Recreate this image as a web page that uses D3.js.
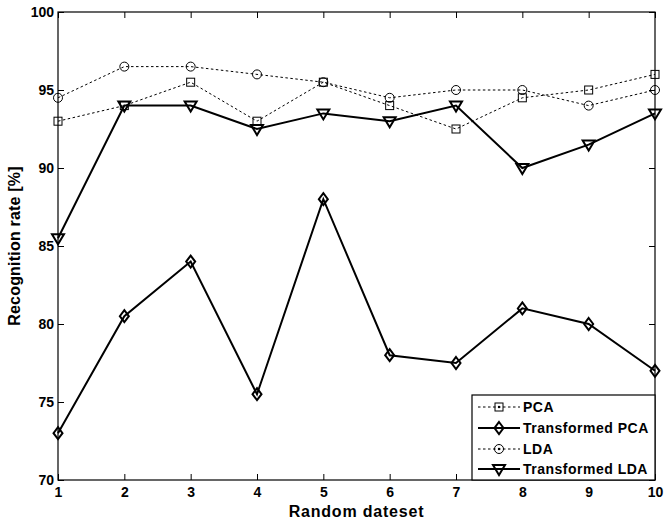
<!DOCTYPE html>
<html><head><meta charset="utf-8">
<script src="https://cdn.jsdelivr.net/npm/d3@7"></script>
<style>body{margin:0;background:#fff}svg{display:block}text{font-family:Arial,"Liberation Sans",sans-serif;font-weight:bold;fill:#000}</style>
</head><body>
<script>
const datasets = [1,2,3,4,5,6,7,8,9,10];
const pca = [93,94,95.5,93,95.5,94,92.5,94.5,95,96];
const transformedPca = [73,80.5,84,75.5,88,78,77.5,81,80,77];
const lda = [94.5,96.5,96.5,96,95.5,94.5,95,95,94,95];
const transformedLda = [85.5,94,94,92.5,93.5,93,94,90,91.5,93.5];
const yTicks = [70,75,80,85,90,95,100];
const seriesNames = ["PCA","Transformed PCA","LDA","Transformed LDA"];

const W=664,H=520;
const m={l:58,r:9,t:12,b:40};
const svg=d3.select("body").append("svg").attr("width",W).attr("height",H);
const x=d3.scaleLinear().domain([1,10]).range([m.l,W-m.r]);
const y=d3.scaleLinear().domain([70,100]).range([H-m.b,m.t]);

svg.append("rect").attr("x",m.l).attr("y",m.t).attr("width",W-m.r-m.l).attr("height",H-m.b-m.t)
  .attr("fill","none").attr("stroke","#000").attr("stroke-width",1.2);

const fs=14;
const ax=svg.append("g").attr("transform",`translate(0,${H-m.b})`)
  .call(d3.axisBottom(x).tickValues(datasets).tickSize(-6).tickPadding(7).tickFormat(d3.format("d")));
const ay=svg.append("g").attr("transform",`translate(${m.l},0)`)
  .call(d3.axisLeft(y).tickValues(yTicks).tickSize(-6).tickPadding(4));
const at=svg.append("g").attr("transform",`translate(0,${m.t})`)
  .call(d3.axisTop(x).tickValues(datasets).tickSize(-6).tickFormat(""));
const ar=svg.append("g").attr("transform",`translate(${W-m.r},0)`)
  .call(d3.axisRight(y).tickValues(yTicks).tickSize(-6).tickFormat(""));
[ax,ay,at,ar].forEach(g=>{g.select(".domain").remove();g.selectAll("line").attr("stroke","#000");
  g.selectAll("text").attr("font-size",fs).attr("font-weight","bold").attr("font-family","Arial, Liberation Sans, sans-serif");});

svg.append("text").attr("x",(m.l+W-m.r)/2).attr("y",H-3).attr("text-anchor","middle")
  .attr("font-size",16).attr("letter-spacing","0.8").text("Random dateset");
svg.append("text").attr("transform",`translate(20,${(m.t+H-m.b)/2}) rotate(-90)`).attr("text-anchor","middle")
  .attr("font-size",16).attr("letter-spacing","0.2").text("Recognition rate [%]");

function marker(g,type,cx,cy,dot){
  if(type==="square"){g.append("rect").attr("x",cx-4).attr("y",cy-4).attr("width",8).attr("height",8).attr("fill","none").attr("stroke","#000").attr("stroke-width",1);}
  else if(type==="circle"){g.append("circle").attr("cx",cx).attr("cy",cy).attr("r",4.5).attr("fill","none").attr("stroke","#000").attr("stroke-width",1);}
  else if(type==="diamond"){g.append("path").attr("d",`M${cx},${cy-6}L${cx+4.5},${cy}L${cx},${cy+6}L${cx-4.5},${cy}Z`).attr("fill","none").attr("stroke","#000").attr("stroke-width",2);}
  else if(type==="tri"){g.append("path").attr("d",`M${cx-6},${cy-4}L${cx+6},${cy-4}L${cx},${cy+6}Z`).attr("fill","none").attr("stroke","#000").attr("stroke-width",2);}
  if(dot) g.append("circle").attr("cx",cx).attr("cy",cy).attr("r",1.2).attr("fill","#000");
}

const series=[
  {vals:pca,type:"square",dash:"2.5,2.5",w:1},
  {vals:lda,type:"circle",dash:"2.5,2.5",w:1},
  {vals:transformedLda,type:"tri",dash:null,w:2},
  {vals:transformedPca,type:"diamond",dash:null,w:2}
];
const line=d3.line().x((d,i)=>x(datasets[i])).y(d=>y(d));
series.forEach(s=>{
  const g=svg.append("g");
  g.append("path").datum(s.vals).attr("d",line).attr("fill","none").attr("stroke","#000")
    .attr("stroke-width",s.w).attr("stroke-dasharray",s.dash);
  s.vals.forEach((v,i)=>marker(g,s.type,x(datasets[i]),y(v),false));
});

const lx=472, ly=395, lw=W-m.r-lx, lh=H-m.b-ly;
const lg=svg.append("g");
lg.append("rect").attr("x",lx).attr("y",ly).attr("width",lw).attr("height",lh).attr("fill","#fff").attr("stroke","#000").attr("stroke-width",1.2);
const legTypes=[{t:"square",dash:"2.5,2.5",w:1,dot:true},{t:"diamond",dash:null,w:2,dot:false},{t:"circle",dash:"2.5,2.5",w:1,dot:true},{t:"tri",dash:null,w:2,dot:false}];
const rowsY=[407,428,449,469];
seriesNames.forEach((n,i)=>{
  const cy=rowsY[i];
  lg.append("line").attr("x1",478).attr("x2",520).attr("y1",cy).attr("y2",cy).attr("stroke","#000")
    .attr("stroke-width",legTypes[i].w).attr("stroke-dasharray",legTypes[i].dash);
  marker(lg,legTypes[i].t,499,cy,legTypes[i].dot);
  lg.append("text").attr("x",523).attr("y",cy+5).attr("font-size",14).attr("letter-spacing","0.5").text(n);
});
</script>
</body></html>
